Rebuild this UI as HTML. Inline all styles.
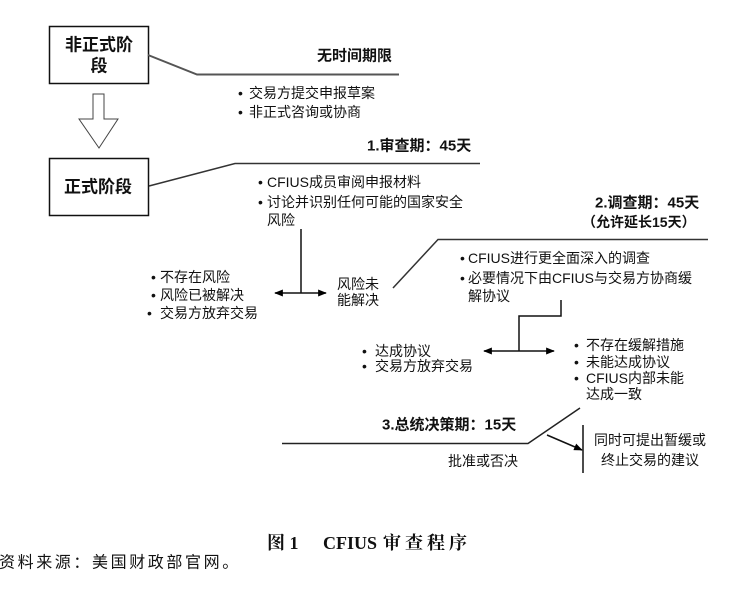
<!DOCTYPE html>
<html>
<head>
<meta charset="utf-8">
<style>
html,body{margin:0;padding:0;background:#fff;}
body{width:741px;height:598px;overflow:hidden;position:relative;}
svg{position:absolute;left:0;top:0;}
text{font-family:"Liberation Sans","Noto Sans CJK SC",sans-serif;fill:#111;}
.b{font-weight:bold;}
.s14{font-size:14px;}
.cap{font-family:"Liberation Serif","Noto Serif CJK SC",serif;font-weight:bold;font-size:18px;}
</style>
</head>
<body>
<svg width="741" height="598" viewBox="0 0 741 598" xmlns="http://www.w3.org/2000/svg">
  <defs>
    <marker id="ah" viewBox="0 0 10 8" refX="9" refY="4" markerWidth="9" markerHeight="7" markerUnits="userSpaceOnUse" orient="auto">
      <path d="M0,0 L10,4 L0,8 z" fill="#000"/>
    </marker>
    <marker id="ahs" viewBox="0 0 10 8" refX="1" refY="4" markerWidth="9" markerHeight="7" markerUnits="userSpaceOnUse" orient="auto">
      <path d="M10,0 L0,4 L10,8 z" fill="#000"/>
    </marker>
  </defs>

  <!-- Box 1 -->
  <rect x="49.5" y="26.5" width="99" height="57" fill="#fff" stroke="#111" stroke-width="1.5"/>
  <text class="b" x="99" y="45" font-size="17" text-anchor="middle" dominant-baseline="central">非正式阶</text>
  <text class="b" x="99" y="66" font-size="17" text-anchor="middle" dominant-baseline="central">段</text>

  <!-- Hollow arrow -->
  <polygon points="93,94 104,94 104,119 118,119 99,148 79,119 93,119" fill="#fff" stroke="#444" stroke-width="1"/>

  <!-- Box 2 -->
  <rect x="49.5" y="158.5" width="99" height="57" fill="#fff" stroke="#111" stroke-width="1.5"/>
  <text class="b" x="98" y="187" font-size="17" text-anchor="middle" dominant-baseline="central">正式阶段</text>

  <!-- Stage 0 line -->
  <polyline points="148,55 197,74.5 399,74.5" fill="none" stroke="#555" stroke-width="2"/>
  <text class="b" x="317" y="56" font-size="15" dominant-baseline="central">无时间期限</text>
  <text class="s14" x="238" y="93" dominant-baseline="central">•</text>
  <text class="s14" x="249" y="93" dominant-baseline="central">交易方提交申报草案</text>
  <text class="s14" x="238" y="112" dominant-baseline="central">•</text>
  <text class="s14" x="249" y="112" dominant-baseline="central">非正式咨询或协商</text>

  <!-- Stage 1 line -->
  <polyline points="149,186 235,163.5 480,163.5" fill="none" stroke="#333" stroke-width="1.5"/>
  <text class="b" x="367" y="146" font-size="15" dominant-baseline="central">1.审查期：45天</text>
  <text class="s14" x="258" y="182" dominant-baseline="central">•</text>
  <text class="s14" x="267" y="182" dominant-baseline="central">CFIUS成员审阅申报材料</text>
  <text class="s14" x="258" y="202" dominant-baseline="central">•</text>
  <text class="s14" x="267" y="202" dominant-baseline="central">讨论并识别任何可能的国家安全</text>
  <text class="s14" x="267" y="220" dominant-baseline="central">风险</text>

  <!-- Branch 1 -->
  <line x1="301" y1="229" x2="301" y2="293" stroke="#111" stroke-width="1.5"/>
  <line x1="275" y1="293" x2="326" y2="293" stroke="#111" stroke-width="1.5" marker-start="url(#ahs)" marker-end="url(#ah)"/>
  <text class="s14" x="151" y="277" dominant-baseline="central">•</text>
  <text class="s14" x="160" y="277" dominant-baseline="central">不存在风险</text>
  <text class="s14" x="151" y="295" dominant-baseline="central">•</text>
  <text class="s14" x="160" y="295" dominant-baseline="central">风险已被解决</text>
  <text class="s14" x="147" y="313" dominant-baseline="central">•</text>
  <text class="s14" x="160" y="313" dominant-baseline="central">交易方放弃交易</text>
  <text class="s14" x="337" y="284" dominant-baseline="central">风险未</text>
  <text class="s14" x="337" y="300" dominant-baseline="central">能解决</text>

  <!-- Stage 2 line -->
  <polyline points="393,288 438,239.5 708,239.5" fill="none" stroke="#333" stroke-width="1.5"/>
  <text class="b" x="595" y="203" font-size="15" dominant-baseline="central">2.调查期：45天</text>
  <text class="b" x="582" y="222" font-size="14" dominant-baseline="central">（允许延长15天）</text>
  <text class="s14" x="460" y="258" dominant-baseline="central">•</text>
  <text class="s14" x="468" y="258" dominant-baseline="central">CFIUS进行更全面深入的调查</text>
  <text class="s14" x="460" y="278" dominant-baseline="central">•</text>
  <text class="s14" x="468" y="278" dominant-baseline="central">必要情况下由CFIUS与交易方协商缓</text>
  <text class="s14" x="468" y="296" dominant-baseline="central">解协议</text>

  <!-- Branch 2 -->
  <polyline points="561,300 561,316 519,316 519,351" fill="none" stroke="#111" stroke-width="1.5"/>
  <line x1="484" y1="351" x2="554" y2="351" stroke="#111" stroke-width="1.5" marker-start="url(#ahs)" marker-end="url(#ah)"/>
  <text class="s14" x="362" y="351" dominant-baseline="central">•</text>
  <text class="s14" x="375" y="351" dominant-baseline="central">达成协议</text>
  <text class="s14" x="362" y="366" dominant-baseline="central">•</text>
  <text class="s14" x="375" y="366" dominant-baseline="central">交易方放弃交易</text>
  <text class="s14" x="574" y="345" dominant-baseline="central">•</text>
  <text class="s14" x="586" y="345" dominant-baseline="central">不存在缓解措施</text>
  <text class="s14" x="574" y="362" dominant-baseline="central">•</text>
  <text class="s14" x="586" y="362" dominant-baseline="central">未能达成协议</text>
  <text class="s14" x="574" y="378" dominant-baseline="central">•</text>
  <text class="s14" x="586" y="378" dominant-baseline="central">CFIUS内部未能</text>
  <text class="s14" x="586" y="394" dominant-baseline="central">达成一致</text>

  <!-- Stage 3 line -->
  <polyline points="580,408 528,443.5 282,443.5" fill="none" stroke="#222" stroke-width="1.5"/>
  <text class="b" x="382" y="425" font-size="15" dominant-baseline="central">3.总统决策期：15天</text>
  <text class="s14" x="448" y="461" dominant-baseline="central">批准或否决</text>
  <line x1="547" y1="435" x2="582" y2="450" stroke="#111" stroke-width="1.5" marker-end="url(#ah)"/>
  <line x1="583" y1="425" x2="583" y2="473" stroke="#111" stroke-width="1.5"/>
  <text class="s14" x="650" y="440" text-anchor="middle" dominant-baseline="central">同时可提出暂缓或</text>
  <text class="s14" x="650" y="460" text-anchor="middle" dominant-baseline="central">终止交易的建议</text>

  <!-- Caption -->
  <text class="cap" x="267" y="543" dominant-baseline="central">图 1</text>
  <text class="cap" x="323" y="543" dominant-baseline="central">CFIUS</text>
  <text class="cap" x="383" y="543" dominant-baseline="central" letter-spacing="4">审查程序</text>
  <text x="-1" y="563" font-size="16" letter-spacing="2.6" dominant-baseline="central">资料来源：美国财政部官网。</text>
</svg>
</body>
</html>
